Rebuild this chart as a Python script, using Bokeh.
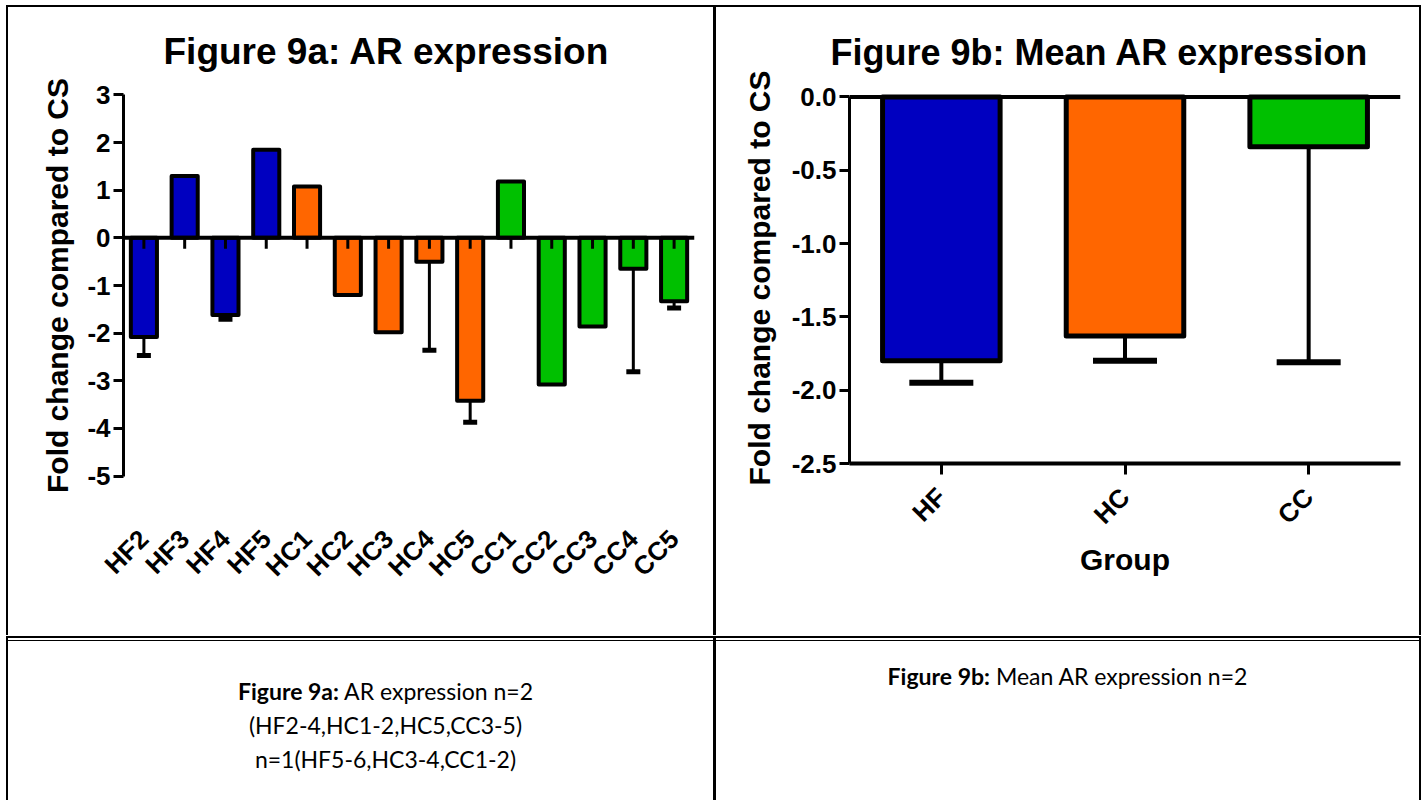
import math
from bokeh.plotting import figure
from bokeh.models import (ColumnDataSource, FactorRange, Range1d, FixedTicker, Span,
                          Whisker, TeeHead, Div, NumeralTickFormatter)
from bokeh.layouts import row, column
from bokeh.embed import file_html
from bokeh.resources import INLINE

# ---------------- data ----------------
cats_a = ["HF2", "HF3", "HF4", "HF5", "HC1", "HC2", "HC3", "HC4", "HC5",
          "CC1", "CC2", "CC3", "CC4", "CC5"]
vals_a = [-2.08, 1.30, -1.62, 1.85, 1.08, -1.20, -1.98, -0.50, -3.42,
          1.18, -3.08, -1.86, -0.65, -1.33]
errs_a = [0.39, 0.0, 0.09, 0.0, 0.0, 0.0, 0.0, 1.86, 0.45,
          0.0, 0.0, 0.0, 2.16, 0.14]
ticks_a = [-5, -4, -3, -2, -1, 0, 1, 2, 3]

groups_b = ["HF", "HC", "CC"]
vals_b = [-1.80, -1.63, -0.34]
errs_b = [0.15, 0.17, 1.47]
ticks_b = [-2.5, -2.0, -1.5, -1.0, -0.5, 0.0]

group_colors = {"HF": "#0000C0", "HC": "#FF6600", "CC": "#00C000"}

FONT = "Liberation Sans"
BLACK = "#000000"

# ---------------- Figure 9a ----------------
cols_a = [group_colors[c[:2]] for c in cats_a]
src_a = ColumnDataSource(dict(cat=cats_a, val=vals_a, color=cols_a,
                              low=[v - e for v, e in zip(vals_a, errs_a)]))
idx_e = [i for i, e in enumerate(errs_a) if e > 0]
src_ae = ColumnDataSource(dict(cat=[cats_a[i] for i in idx_e],
                               val=[vals_a[i] for i in idx_e],
                               low=[vals_a[i] - errs_a[i] for i in idx_e]))

pa = figure(x_range=FactorRange(*cats_a, range_padding=0),
            y_range=Range1d(-5.05, 3.05),
            frame_width=571, frame_height=386,
            min_border_left=115, min_border_right=19,
            min_border_top=85, min_border_bottom=157,
            output_backend="svg", toolbar_location=None)

pa.title.text = "Figure 9a: AR expression"
pa.title.align = "left"
pa.title.offset = 40
pa.title.standoff = 41
pa.title.text_font_size = "37px"

wa = Whisker(source=src_ae, base="cat", upper="val", lower="low", dimension="height",
             line_width=3, line_color=BLACK, upper_head=None,
             lower_head=TeeHead(size=14, line_width=5, line_color=BLACK))
pa.add_layout(wa)

pa.vbar(x="cat", top="val", bottom=0, width=0.64, source=src_a,
        fill_color="color", line_color=BLACK, line_width=4, line_join="round")
pa.add_layout(Span(location=0, dimension="width", line_color=BLACK, line_width=4))
pa.ray(x="cat", y=0, length=11, length_units="screen", angle=-math.pi / 2,
       source=src_a, line_color=BLACK, line_width=3)

pa.yaxis.ticker = FixedTicker(ticks=ticks_a)
pa.yaxis.bounds = (ticks_a[0], ticks_a[-1])
pa.yaxis.formatter = NumeralTickFormatter(format="0")
pa.yaxis.axis_label = "Fold change compared to CS"

pa.xaxis.axis_line_color = None
pa.xaxis.major_tick_line_color = None
pa.xaxis.major_label_orientation = math.pi / 4
pa.xaxis.major_label_standoff = 50

# ---------------- Figure 9b ----------------
cols_b = [group_colors[g] for g in groups_b]
src_b = ColumnDataSource(dict(grp=groups_b, val=vals_b, color=cols_b,
                              low=[v - e for v, e in zip(vals_b, errs_b)]))

pb = figure(x_range=FactorRange(*groups_b, range_padding=0),
            y_range=Range1d(ticks_b[0], 0.03),
            frame_width=551, frame_height=371,
            min_border_left=133, min_border_right=19,
            min_border_top=82, min_border_bottom=175,
            output_backend="svg", toolbar_location=None)

pb.title.text = "Figure 9b: Mean AR expression"
pb.title.align = "left"
pb.title.offset = -19
pb.title.standoff = 40
pb.title.text_font_size = "36px"

wb = Whisker(source=src_b, base="grp", upper="val", lower="low", dimension="height",
             line_width=4, line_color=BLACK, upper_head=None,
             lower_head=TeeHead(size=64, line_width=6, line_color=BLACK))
pb.add_layout(wb)
pb.vbar(x="grp", top=0, bottom="val", width=0.64, source=src_b,
        fill_color="color", line_color=BLACK, line_width=5, line_join="round")
pb.add_layout(Span(location=0, dimension="width", line_color=BLACK, line_width=4))

pb.yaxis.ticker = FixedTicker(ticks=ticks_b)
pb.yaxis.bounds = (ticks_b[0], ticks_b[-1])
pb.yaxis.formatter = NumeralTickFormatter(format="0.0")
pb.yaxis.axis_label = "Fold change compared to CS"
pb.xaxis.axis_label = "Group"
pb.xaxis.major_label_orientation = math.pi / 4
pb.xaxis.major_label_standoff = 18
pb.xaxis.major_tick_out = 11
pb.xaxis.major_tick_in = 0

for p in (pa, pb):
    p.title.text_font = FONT
    p.title.text_font_style = "bold"
    p.title.text_color = BLACK
    p.xgrid.visible = False
    p.ygrid.visible = False
    p.outline_line_color = None
    p.background_fill_color = "white"
    p.border_fill_color = "white"
    for ax in (p.xaxis[0], p.yaxis[0]):
        ax.major_label_text_font = FONT
        ax.major_label_text_font_style = "bold"
        ax.major_label_text_color = BLACK
        ax.axis_label_text_font = FONT
        ax.axis_label_text_font_style = "bold"
        ax.axis_label_text_font_size = "30px"
        ax.axis_label_text_color = BLACK
        ax.minor_tick_line_color = None
    p.xaxis.major_label_text_font_size = "26px"
    p.yaxis.major_label_text_font_size = "26px"
    p.yaxis.axis_line_width = 3
    p.yaxis.major_tick_line_width = 3
    p.yaxis.major_tick_out = 10
    p.yaxis.major_tick_in = 0
    p.yaxis.major_label_standoff = 3
    p.yaxis.axis_label_standoff = 10
pb.xaxis.axis_line_width = 4
pb.xaxis.major_tick_line_width = 3
pb.xaxis.axis_label_standoff = 0
pb.yaxis.axis_label_standoff = 13

# ---------------- table frame and captions ----------------
def blk(w, h, color):
    return Div(text="", width=w, height=h, margin=0,
               styles={"background-color": color})

W = "#FFFFFF"
cap_style = {"font-family": "Lato", "font-size": "23px", "color": "#000000",
             "text-align": "center", "line-height": "34px", "box-sizing": "border-box"}
cap_a = Div(text="<b>Figure 9a:</b> AR expression n=2<br>(HF2-4,HC1-2,HC5,CC3-5)<br>n=1(HF5-6,HC3-4,CC1-2)",
            width=705, height=160, margin=0,
            styles=dict(cap_style, **{"padding-top": "33px", "padding-left": "50px"}))
cap_b = Div(text="<b>Figure 9b:</b> Mean AR expression n=2",
            width=703, height=160, margin=0,
            styles=dict(cap_style, **{"padding-top": "18px"}))

layout = column(
    blk(1426, 5, W),
    row(blk(6, 2, W), blk(1415, 2, BLACK)),
    row(blk(6, 628, W), blk(2, 628, BLACK), pa, blk(3, 628, BLACK), pb, blk(2, 628, BLACK)),
    row(blk(6, 2, W), blk(1415, 2, BLACK)),
    row(blk(6, 2, W), blk(2, 2, BLACK), blk(705, 2, W), blk(3, 2, BLACK),
        blk(703, 2, W), blk(2, 2, BLACK)),
    row(blk(6, 1, W), blk(1415, 1, BLACK)),
    row(blk(6, 160, W), blk(2, 160, BLACK), cap_a, blk(3, 160, BLACK), cap_b,
        blk(2, 160, BLACK)),
)

open("out.html", "w").write(file_html(layout, INLINE))
